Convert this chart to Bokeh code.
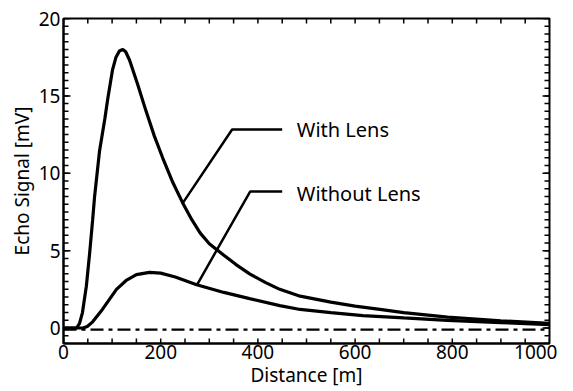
from bokeh.plotting import figure
from bokeh.models import FixedTicker, Range1d
from bokeh.core.properties import value
from bokeh.embed import file_html
from bokeh.resources import INLINE

# Data
lens_x = [0, 20, 27, 33, 39, 47, 54, 60, 64, 74, 85, 91, 101, 108, 115, 122, 128, 136, 152, 170, 187, 204, 225, 245, 264, 281, 300, 330, 355, 383, 415, 445, 487, 550, 600, 651, 700, 790, 900, 1000]
lens_y = [0, 0, 0, 0.3, 1.0, 2.7, 4.9, 7.0, 8.5, 11.4, 13.5, 14.8, 16.7, 17.5, 17.9, 18.0, 17.85, 17.3, 15.8, 14.0, 12.4, 11.0, 9.4, 8.1, 7.0, 6.15, 5.45, 4.7, 4.1, 3.5, 2.95, 2.5, 2.06, 1.67, 1.42, 1.2, 0.99, 0.7, 0.47, 0.3]

nolens_x = [0, 40, 49, 60, 80, 109, 130, 150, 177, 200, 230, 274, 330, 383, 445, 487, 550, 616, 700, 790, 900, 1000]
nolens_y = [0, 0, 0.1, 0.4, 1.2, 2.5, 3.1, 3.45, 3.6, 3.55, 3.3, 2.8, 2.3, 1.9, 1.45, 1.2, 1.0, 0.8, 0.65, 0.5, 0.35, 0.22]

base_x = [0, 1000]
base_y = [-0.1, -0.1]

# Annotation leader lines and labels
lead1_x = [246, 347, 450]
lead1_y = [8.1, 12.83, 12.83]
lead2_x = [275, 384, 450]
lead2_y = [2.81, 8.82, 8.82]
label_x = [480, 480]
label_y = [12.8, 8.7]
label_text = ["With Lens", "Without Lens"]

X_MIN, X_MAX = 0, 1000
Y_MIN, Y_MAX = -1, 20
x_major = [0, 200, 400, 600, 800, 1000]
x_minor = list(range(0, 1001, 50))
y_major = [0, 5, 10, 15, 20]
y_minor = [i * 0.5 for i in range(-2, 41)]

FONT = "Noto Sans"
FS = "19px"

p = figure(width=557, height=390, output_backend="svg", toolbar_location=None,
           x_range=Range1d(X_MIN, X_MAX), y_range=Range1d(Y_MIN, Y_MAX),
           min_border_left=63, min_border_right=8, min_border_top=18, min_border_bottom=47)
p.xgrid.visible = False
p.ygrid.visible = False
p.outline_line_color = "black"
p.outline_line_width = 2
p.background_fill_color = None
p.border_fill_color = None

# inward tick marks on all four sides (from the tick arrays)
tk = dict(line_color="black", line_width=1.5, length_units="screen", angle_units="deg")
p.ray(x=x_minor, y=[Y_MIN] * len(x_minor), length=5, angle=90, **tk)
p.ray(x=x_minor, y=[Y_MAX] * len(x_minor), length=5, angle=-90, **tk)
p.ray(x=[X_MIN] * len(y_minor), y=y_minor, length=5, angle=0, **tk)
p.ray(x=[X_MAX] * len(y_minor), y=y_minor, length=5, angle=180, **tk)
p.ray(x=[X_MIN] * len(y_major), y=y_major, length=7, angle=0, **tk)
p.ray(x=[X_MAX] * len(y_major), y=y_major, length=7, angle=180, **tk)

p.line(lens_x, lens_y, line_color="black", line_width=3.2)
p.line(nolens_x, nolens_y, line_color="black", line_width=3.2)
p.line(base_x, base_y, line_color="black", line_width=2.2, line_dash="13 5 4 5")
p.line(lead1_x, lead1_y, line_color="black", line_width=2.5)
p.line(lead2_x, lead2_y, line_color="black", line_width=2.5)
p.text(label_x, label_y, text=label_text, text_font=value(FONT), text_font_size="20px",
       text_baseline="alphabetic", text_align="left", text_color="black")

def style(ax, ticks):
    ax.ticker = FixedTicker(ticks=ticks)
    ax.major_tick_in = 0
    ax.major_tick_out = 0
    ax.minor_tick_in = 0
    ax.minor_tick_out = 0
    ax.axis_line_color = "black"
    ax.axis_line_width = 2
    ax.major_label_text_font = FONT
    ax.major_label_text_font_size = FS
    ax.major_label_text_color = "black"
    ax.axis_label_text_font = FONT
    ax.axis_label_text_font_size = FS
    ax.axis_label_text_font_style = "normal"
    ax.axis_label_text_color = "black"

xa = p.xaxis[0]
style(xa, x_major)
xa.axis_label = "Distance [m]"
xa.major_label_standoff = 1
xa.axis_label_standoff = 0

ya = p.yaxis[0]
style(ya, y_major)
ya.axis_label = "Echo Signal [mV]"
ya.major_label_standoff = 3
ya.axis_label_standoff = 1

open("out.html", "w").write(file_html(p, INLINE))
